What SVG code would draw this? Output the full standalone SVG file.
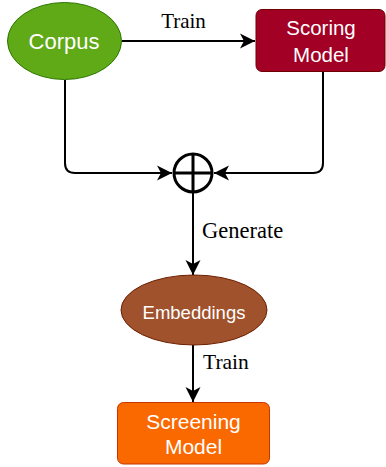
<svg xmlns="http://www.w3.org/2000/svg" width="386" height="467" viewBox="0 0 386 467">
<style>
.lbl{font-family:"Liberation Sans",Arial,sans-serif;fill:#ffffff;text-anchor:middle}
.edge{font-family:"Liberation Serif","Times New Roman",serif;fill:#000000;font-size:21px}
.conn{fill:none;stroke:#000000;stroke-width:2}
</style>
<defs>
<marker id="arr" markerUnits="userSpaceOnUse" markerWidth="18" markerHeight="18" viewBox="-16 -9 18 18" refX="0" refY="0" orient="auto">
<path d="M0,0 L-15,-7.5 L-11,0 L-15,7.5 Z" fill="#000000"/>
</marker>
</defs>
<rect width="386" height="467" fill="#ffffff"/>
<g id="connectors">
<path class="conn" d="M122,41 L255,41" marker-end="url(#arr)"/>
<path class="conn" d="M65,80 L65,163 Q65,173 75,173 L172,173" marker-end="url(#arr)"/>
<path class="conn" d="M323,72 L323,163 Q323,173 313,173 L214,173" marker-end="url(#arr)"/>
<path class="conn" d="M193,192 L193,275" marker-end="url(#arr)"/>
<path class="conn" d="M193,345 L193,402" marker-end="url(#arr)"/>
<text class="edge" x="183.5" y="28" text-anchor="middle">Train</text>
<text class="edge" x="202" y="238" font-size="22.5px" style="font-size:22.5px">Generate</text>
<text class="edge" x="203" y="369" style="font-size:21.5px">Train</text>
</g>
<g id="sum">
<circle cx="193" cy="173" r="19" fill="#ffffff" stroke="#000000" stroke-width="3"/>
<path d="M193,154 L193,192 M174,173 L212,173" stroke="#000000" stroke-width="3" fill="none"/>
</g>
<g id="corpus">
<ellipse cx="64.5" cy="41" rx="57" ry="38.5" fill="#60a917" stroke="#2d7600" stroke-width="1"/>
<text class="lbl" x="64" y="48.5" font-size="22">Corpus</text>
</g>
<g id="scoring">
<rect x="256" y="9.5" width="129" height="62" rx="6" fill="#a20025" stroke="#6f0000" stroke-width="1"/>
<text class="lbl" x="321" y="35" font-size="20.5">Scoring</text>
<text class="lbl" x="321" y="62" font-size="20.5">Model</text>
</g>
<g id="embeddings">
<ellipse cx="194" cy="310" rx="73" ry="35" fill="#a0522d" stroke="#6d1f00" stroke-width="1"/>
<text class="lbl" x="194" y="319" font-size="18.5">Embeddings</text>
</g>
<g id="screening">
<rect x="117.5" y="402.5" width="152" height="61.5" rx="6" fill="#fa6800" stroke="#c73500" stroke-width="1"/>
<text class="lbl" x="193.5" y="429" font-size="21">Screening</text>
<text class="lbl" x="193.5" y="454" font-size="21">Model</text>
</g>
</svg>
